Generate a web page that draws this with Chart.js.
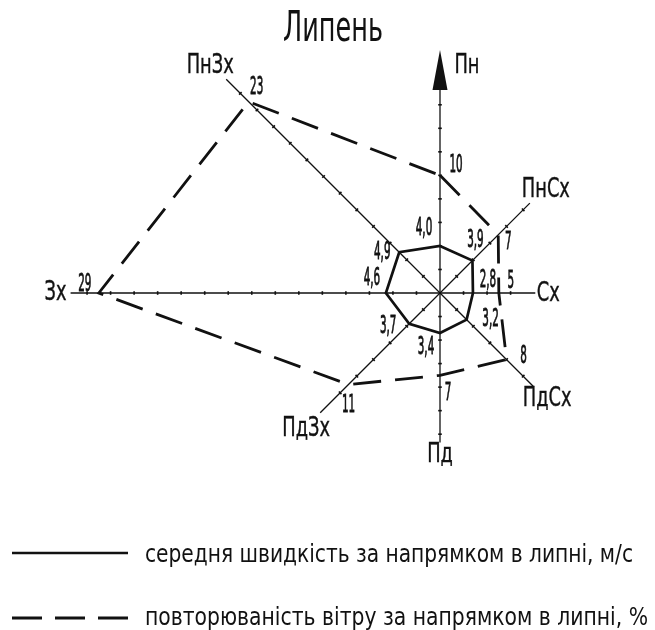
<!DOCTYPE html>
<html><head><meta charset="utf-8">
<script src="https://cdn.jsdelivr.net/npm/chart.js@4/dist/chart.umd.min.js"></script>
<style>html,body{margin:0;padding:0;background:#fff;}#wrap{width:655px;height:630px;}</style>
</head><body><div id="wrap"><canvas id="c" width="655" height="630"></canvas></div>
<script>
// ---- data ----
const directions = ['Пн','ПнСх','Сх','ПдСх','Пд','ПдЗх','Зх','ПнЗх'];
const speed = [4.0, 3.9, 2.8, 3.2, 3.4, 3.7, 4.6, 4.9];          // м/с
const frequency = [10, 7, 5, 8, 7, 11, 29, 23];                   // %
const titleText = 'Липень';
const legendSpeed = 'середня швидкість за напрямком в липні, м/с';
const legendFreq = 'повторюваність вітру за напрямком в липні, %';

// ---- drawing style (layout only) ----
const FONT = '"DejaVu Sans Condensed","DejaVu Sans",sans-serif';
const INK = '#111';
const axisExtent = [20.66, 10.8, 8.1, 11.2, 12.7, 14.4, 31.4, 25.7]; // axis length in scale units
const arrowLen = 3.4;
const dirLabelOffset = [[27,16],[16,-13],[13,1],[14,13],[0,13],[-14,16],[-15,0],[-16,-13]];
const freqLabelOffset = [[16,-10],[10,8],[12,-11],[17,-3],[8,18],[0,21],[-14,-8],[8,-14]];
const speedLabelOffset = [[-16,-17],[3,-20],[15,-12],[24,0],[-14,15],[-21,3],[-14,-14],[-17,1]];

function txt(ctx, s, x, y, size, o) {
  ctx.save();
  ctx.font = size + 'px ' + FONT;
  const w = ctx.measureText(s).width;
  const sx = o.width ? o.width / w : o.sx;
  ctx.translate(x, y);
  ctx.scale(sx, 1);
  ctx.textAlign = o.align || 'center';
  ctx.textBaseline = o.baseline || 'middle';
  ctx.fillStyle = INK;
  if (o.stroke) { ctx.strokeStyle = INK; ctx.lineWidth = o.stroke; ctx.strokeText(s, 0, 0); }
  ctx.fillText(s, 0, 0);
  ctx.restore();
}
function measure(ctx, s, size) {
  ctx.save(); ctx.font = size + 'px ' + FONT; const w = ctx.measureText(s).width; ctx.restore(); return w;
}

const windRose = {
  id: 'windRose',
  beforeDatasetsDraw(chart) {
    const ctx = chart.ctx, sc = chart.scales.r;
    const cx = sc.xCenter, cy = sc.yCenter;
    ctx.save();
    ctx.strokeStyle = INK; ctx.fillStyle = INK; ctx.lineWidth = 1.3; ctx.setLineDash([]);
    directions.forEach((d, i) => {
      const ext = i === 0 ? axisExtent[i] - arrowLen : axisExtent[i];
      const p = sc.getPointPosition(i, sc.getDistanceFromCenterForValue(ext));
      ctx.lineWidth = 1.3;
      ctx.beginPath(); ctx.moveTo(cx, cy); ctx.lineTo(p.x, p.y); ctx.stroke();
      // ticks every 2 units
      const a = p.angle, nx = -Math.sin(a), ny = Math.cos(a);
      ctx.lineWidth = 1.6;
      for (let v = 2; v < ext - 0.4; v += 2) {
        const q = sc.getPointPosition(i, sc.getDistanceFromCenterForValue(v));
        ctx.beginPath(); ctx.moveTo(q.x - nx * 1.8, q.y - ny * 1.8); ctx.lineTo(q.x + nx * 1.8, q.y + ny * 1.8); ctx.stroke();
      }
    });
    // arrow on north axis
    const tip = sc.getPointPosition(0, sc.getDistanceFromCenterForValue(axisExtent[0]));
    const base = sc.getPointPosition(0, sc.getDistanceFromCenterForValue(axisExtent[0] - arrowLen));
    ctx.beginPath(); ctx.moveTo(tip.x, tip.y); ctx.lineTo(base.x - 7.5, base.y); ctx.lineTo(base.x + 7.5, base.y); ctx.closePath(); ctx.fill();
    ctx.restore();
  },
  afterDraw(chart) {
    const ctx = chart.ctx, sc = chart.scales.r;
    const numSx = 6.6 / measure(ctx, '0', 24);
    const dirSx = 47 / measure(ctx, 'ПнЗх', 27);
    // direction labels
    directions.forEach((d, i) => {
      const p = sc.getPointPosition(i, sc.getDistanceFromCenterForValue(axisExtent[i]));
      txt(ctx, d, p.x + dirLabelOffset[i][0], p.y + dirLabelOffset[i][1], 27, {sx: dirSx, stroke: 0.4});
    });
    // value labels
    frequency.forEach((v, i) => {
      const p = sc.getPointPosition(i, sc.getDistanceFromCenterForValue(v));
      txt(ctx, String(v), p.x + freqLabelOffset[i][0], p.y + freqLabelOffset[i][1], 24, {sx: numSx, stroke: 0.8});
    });
    speed.forEach((v, i) => {
      const p = sc.getPointPosition(i, sc.getDistanceFromCenterForValue(v));
      txt(ctx, v.toFixed(1).replace('.', ','), p.x + speedLabelOffset[i][0], p.y + speedLabelOffset[i][1], 24, {sx: numSx, stroke: 0.8});
    });
    // title
    txt(ctx, titleText, 333, 30, 42, {width: 100});
    // legend
    ctx.save();
    ctx.strokeStyle = INK; ctx.lineWidth = 2.7; ctx.lineCap = 'butt';
    ctx.beginPath(); ctx.moveTo(12, 553); ctx.lineTo(128, 553); ctx.stroke();
    ctx.setLineDash([30, 13]); ctx.lineWidth = 3;
    ctx.beginPath(); ctx.moveTo(12, 618); ctx.lineTo(128, 618); ctx.stroke();
    ctx.restore();
    txt(ctx, legendSpeed, 145, 562, 24, {width: 488, align: 'left', baseline: 'alphabetic'});
    txt(ctx, legendFreq, 145, 625, 24, {width: 503, align: 'left', baseline: 'alphabetic'});
  }
};

new Chart(document.getElementById('c'), {
  type: 'radar',
  data: {
    labels: directions,
    datasets: [
      {label: legendSpeed, data: speed, borderColor: INK, borderWidth: 2.7, pointRadius: 0, fill: false, tension: 0, borderJoinStyle: 'miter', clip: false},
      {label: legendFreq, data: frequency, borderColor: INK, borderWidth: 2.8, borderDash: [28, 14], pointRadius: 0, fill: false, tension: 0, borderJoinStyle: 'miter', clip: false}
    ]
  },
  options: {
    responsive: false,
    animation: false,
    devicePixelRatio: 1,
    layout: {padding: {left: 240, right: 15, top: 0, bottom: 44}},
    scales: {
      r: {
        min: 0, max: 17,
        ticks: {display: false},
        grid: {display: false},
        angleLines: {display: false},
        pointLabels: {display: false}
      }
    },
    plugins: {legend: {display: false}, tooltip: {enabled: false}, title: {display: false}}
  },
  plugins: [windRose]
});
</script>
</body></html>
